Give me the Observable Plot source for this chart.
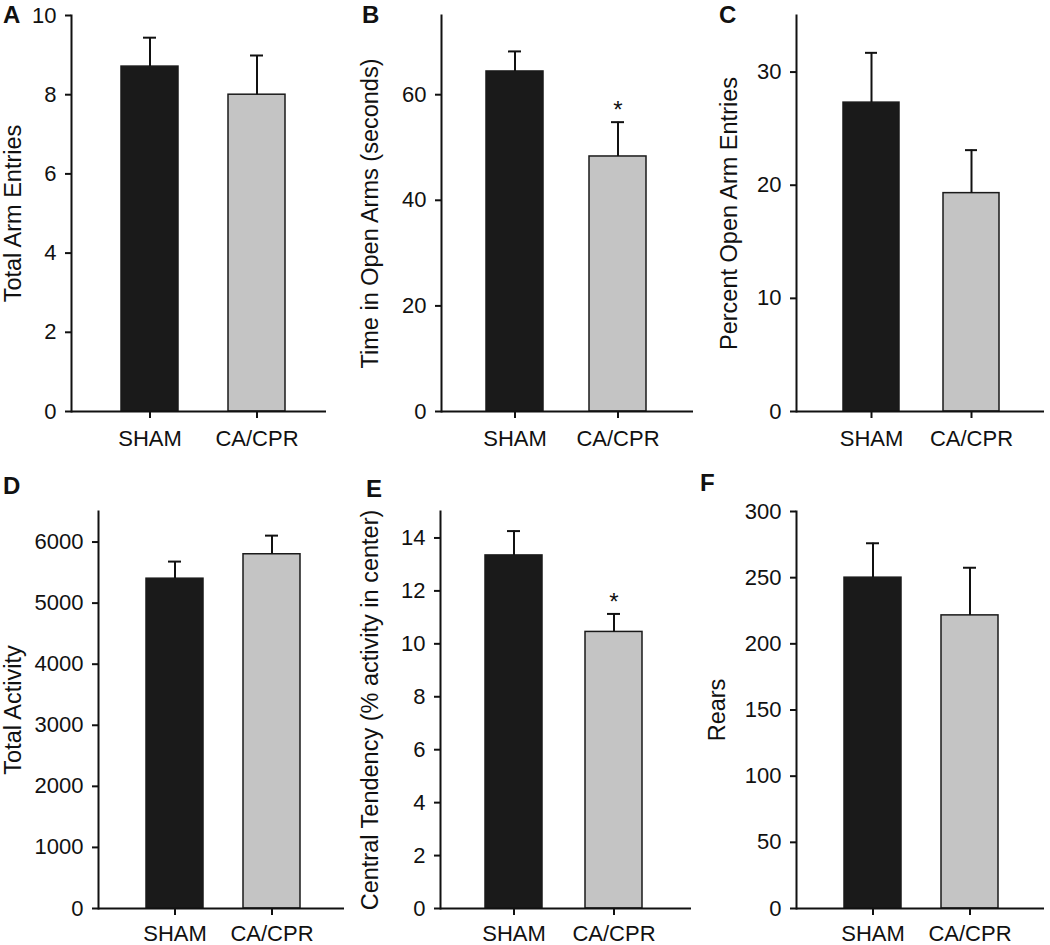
<!DOCTYPE html>
<html><head><meta charset="utf-8">
<script src="https://cdn.jsdelivr.net/npm/d3@7"></script>
<script src="https://cdn.jsdelivr.net/npm/@observablehq/plot@0.6"></script>
<style>
body{margin:0;background:#fff;}
#fig{position:relative;width:1050px;height:945px;overflow:hidden;font-family:"Liberation Sans",Arial,sans-serif;background:#fff;}
.panel{position:absolute;}
.letter{position:absolute;font-weight:bold;font-size:24px;line-height:1;color:#111;}
</style></head><body><div id="fig"></div>
<script>
// ---- data ----
const groups = ["SHAM", "CA/CPR"];
const groupColors = ["#1a1a1a", "#c4c4c4"];

const totalArmEntries = [8.71, 8.0];
const totalArmEntriesSem = [0.73, 0.99];
const totalArmEntriesTicks = [0, 2, 4, 6, 8, 10];

const timeOpenArms = [64.4, 48.3];
const timeOpenArmsSem = [3.8, 6.5];
const timeOpenArmsTicks = [0, 20, 40, 60];

const percentOpenArm = [27.3, 19.3];
const percentOpenArmSem = [4.4, 3.8];
const percentOpenArmTicks = [0, 10, 20, 30];

const totalActivity = [5400, 5800];
const totalActivitySem = [280, 305];
const totalActivityTicks = [0, 1000, 2000, 3000, 4000, 5000, 6000];

const centralTendency = [13.34, 10.45];
const centralTendencySem = [0.92, 0.68];
const centralTendencyTicks = [0, 2, 4, 6, 8, 10, 12, 14];

const rears = [250, 221.5];
const rearsSem = [26, 36];
const rearsTicks = [0, 50, 100, 150, 200, 250, 300];

const noSig = ["", ""];
const caSig = ["", "*"];

// ---- panels ----
const panels = [
  {letter:"A", label:"Total Arm Entries", values:totalArmEntries, sem:totalArmEntriesSem, sig:noSig, domain:[0,10], ticks:totalArmEntriesTicks,
   L:{left:0, top:0, width:350, height:470, ml:71, mr:24, mt:15, mb:59, pi:0.463, po:0.423, align:0.555, lo:67, tp:12, lx:3, ly:3}},
  {letter:"B", label:"Time in Open Arms (seconds)", values:timeOpenArms, sem:timeOpenArmsSem, sig:caSig, domain:[0,75], ticks:timeOpenArmsTicks,
   L:{left:350, top:0, width:350, height:470, ml:91, mr:7, mt:15, mb:59, pi:0.447, po:0.4375, align:0.488, lo:80, tp:12, lx:362, ly:3}},
  {letter:"C", label:"Percent Open Arm Entries", values:percentOpenArm, sem:percentOpenArmSem, sig:noSig, domain:[0,35], ticks:percentOpenArmTicks,
   L:{left:700, top:0, width:350, height:470, ml:96, mr:6, mt:15, mb:59, pi:0.436, po:0.447, align:0.515, lo:76, tp:12, lx:719, ly:3}},
  {letter:"D", label:"Total Activity", values:totalActivity, sem:totalActivitySem, sig:noSig, domain:[0,6500], ticks:totalActivityTicks,
   L:{left:0, top:470, width:350, height:475, ml:98, mr:6, mt:41, mb:37, pi:0.413, po:0.463, align:0.524, lo:94, tp:10, lx:3, ly:474}},
  {letter:"E", label:"Central Tendency (% activity in center)", values:centralTendency, sem:centralTendencySem, sig:caSig, domain:[0,15], ticks:centralTendencyTicks,
   L:{left:350, top:470, width:350, height:475, ml:90, mr:9, mt:41, mb:37, pi:0.43, po:0.468, align:0.478, lo:79, tp:10, lx:366, ly:477}},
  {letter:"F", label:"Rears", values:rears, sem:rearsSem, sig:noSig, domain:[0,300], ticks:rearsTicks,
   L:{left:700, top:470, width:350, height:475, ml:96, mr:6, mt:41, mb:37, pi:0.416, po:0.478, align:0.505, lo:88, tp:10, lx:700, ly:471}}
];

const fig = document.getElementById("fig");
const font = '"Liberation Sans", Arial, sans-serif';

for (const p of panels) {
  const L = p.L;
  const data = groups.map((g, i) => ({group: g, mean: p.values[i], upper: p.values[i] + p.sem[i], sig: p.sig[i]}));
  const chart = Plot.plot({
    width: L.width, height: L.height,
    marginLeft: L.ml, marginRight: L.mr, marginTop: L.mt, marginBottom: L.mb,
    style: {fontFamily: font, fontSize: "22px", color: "#111", background: "transparent", overflow: "visible"},
    x: {domain: groups, paddingInner: L.pi, paddingOuter: L.po, align: L.align, label: null},
    y: {domain: p.domain, label: p.label},
    color: {domain: groups, range: groupColors},
    marks: [
      Plot.barY(data, {x: "group", y: "mean", fill: "group", stroke: "#1a1a1a", strokeWidth: 1.5}),
      Plot.ruleX(data, {x: "group", y1: "mean", y2: "upper", stroke: "#111", strokeWidth: 2}),
      Plot.tickY(data, {x: "group", y: "upper", stroke: "#111", strokeWidth: 2, insetLeft: 22, insetRight: 22}),
      Plot.text(data, {x: "group", y: "upper", text: "sig", dy: -12, fontSize: 24, fill: "#111"}),
      Plot.ruleY([0], {stroke: "#111", strokeWidth: 2}),
      Plot.frame({anchor: "left", stroke: "#111", strokeWidth: 2}),
      Plot.axisY({ticks: p.ticks, tickSize: 6, tickPadding: 9, tickFormat: d => String(d), stroke: "#111", strokeWidth: 2, fontSize: 22, label: null}),
      Plot.axisY({ticks: [], label: p.label, labelAnchor: "center", labelOffset: L.lo, labelArrow: "none", fontSize: 23.5}),
      Plot.axisX({tickSize: 7, tickPadding: L.tp, stroke: "#111", strokeWidth: 2, fontSize: 22, label: null})
    ]
  });
  chart.classList.add("panel");
  chart.style.left = L.left + "px";
  chart.style.top = L.top + "px";
  chart.style.position = "absolute";
  fig.appendChild(chart);

  const lt = document.createElement("div");
  lt.className = "letter";
  lt.textContent = p.letter;
  lt.style.left = L.lx + "px";
  lt.style.top = L.ly + "px";
  fig.appendChild(lt);
}
</script>
</body></html>
